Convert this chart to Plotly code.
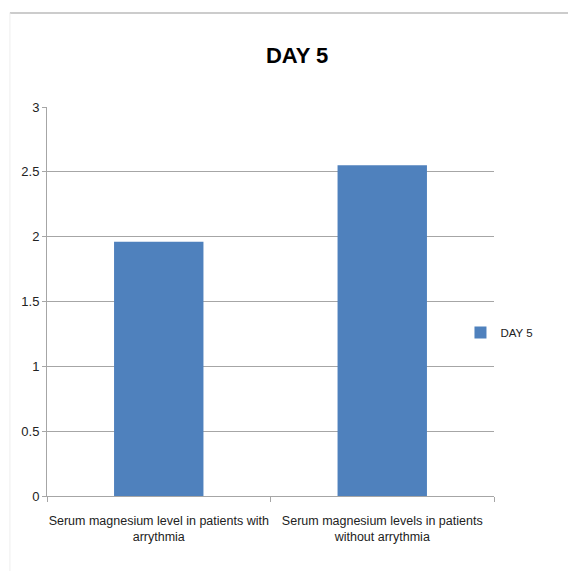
import plotly.graph_objects as go

categories = ["Serum magnesium level in patients with<br>arrythmia",
              "Serum magnesium levels in patients<br>without arrythmia"]
values = [1.96, 2.55]
series_name = "DAY 5"
y_ticks = [0, 0.5, 1, 1.5, 2, 2.5, 3]
y_tick_labels = ["0", "0.5", "1", "1.5", "2", "2.5", "3"]

font_family = "Liberation Sans, Arial, sans-serif"

fig = go.Figure()
fig.add_trace(go.Bar(x=categories, y=values, name=series_name,
                     marker=dict(color="#4F81BD", line=dict(width=0)),
                     showlegend=True))

fig.update_layout(
    width=576, height=571,
    margin=dict(l=39, r=90, t=99, b=83, autoexpand=False),
    paper_bgcolor="white", plot_bgcolor="white",
    title=dict(text="<b>DAY 5</b>", x=0.502, xanchor="center", y=0.918, yanchor="middle",
               font=dict(family=font_family, size=22, color="black")),
    bargap=0.6,
    showlegend=True,
    legend=dict(x=0.925, y=0.42, xanchor="left", yanchor="middle",
                font=dict(family=font_family, size=11.5, color="#222"),
                itemwidth=30, bgcolor="rgba(0,0,0,0)"),
    font=dict(family=font_family, size=12, color="#222"),
)
fig.update_yaxes(range=[0, 3], tickvals=y_ticks, ticktext=y_tick_labels,
                 showgrid=True, gridcolor="#A6A6A6", gridwidth=1,
                 showline=True, linecolor="#A6A6A6", linewidth=1,
                 ticks="outside", ticklen=4, tickcolor="#A6A6A6",
                 zeroline=False, automargin=False,
                 tickfont=dict(size=13, family=font_family, color="#222"))
fig.update_xaxes(showline=True, linecolor="#A6A6A6", linewidth=1,
                 ticks="outside", ticklen=5, tickcolor="#A6A6A6", tickson="boundaries",
                 tickangle=0, automargin=False, ticklabelstandoff=13,
                 tickfont=dict(size=12.5, family=font_family, color="#222"))

# faint screenshot border lines
fig.add_shape(type="line", xref="paper", yref="paper", x0=-0.083, x1=1.2, y0=1.2416, y1=1.2416,
              line=dict(color="#BBBBBB", width=1.5))
fig.add_shape(type="line", xref="paper", yref="paper", x0=-0.083, x1=-0.083, y0=-0.2, y1=1.2416,
              line=dict(color="#EEEEEE", width=1))

fig.write_html("out.html")
